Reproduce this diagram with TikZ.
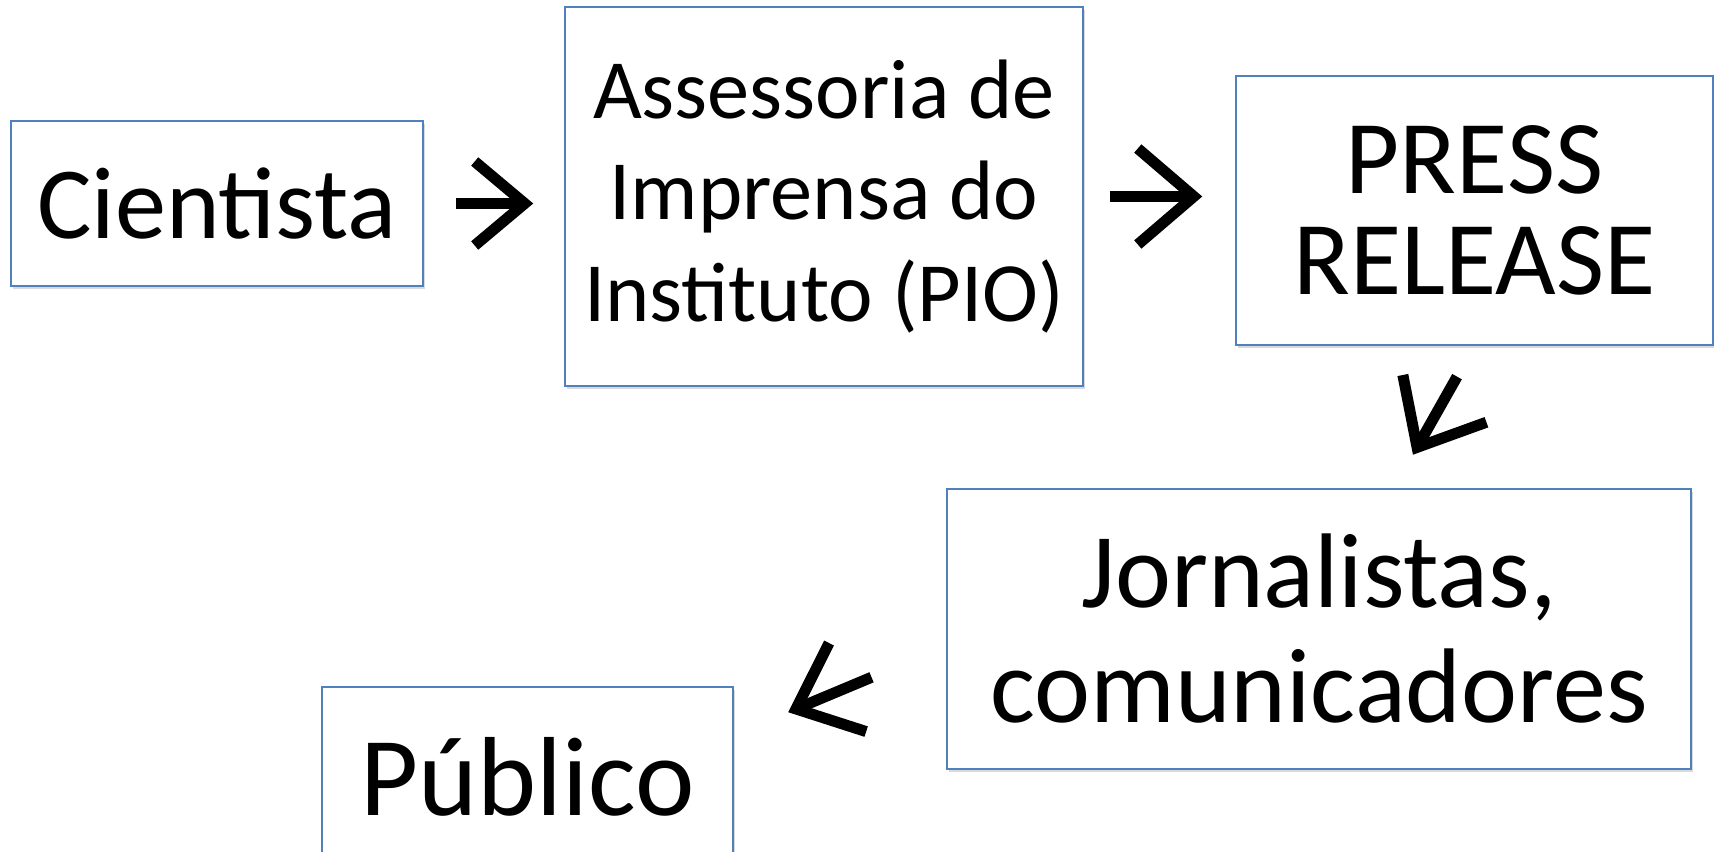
\documentclass[tikz,border=0pt]{standalone}
\usepackage{fontspec}
\setmainfont{Carlito}
\usetikzlibrary{arrows.meta,shadows}
\definecolor{boxblue}{RGB}{79,129,189}
\tikzset{
caixa/.style={draw=boxblue, line width=0.015cm, fill=white, align=center, inner sep=0pt,
 drop shadow={shadow xshift=0.02cm, shadow yshift=-0.03cm, opacity=0.15, fill=black}},
seta/.style={line width=0.11cm, -{Straight Barb[length=0.56cm, width=0.96cm]}}
}
\begin{document}
\begin{tikzpicture}
\useasboundingbox (0,0) rectangle (17.14,-8.52);
\clip (0,0) rectangle (17.14,-8.52);
\node[caixa, minimum width=4.12cm, minimum height=1.65cm, font=\fontsize{29.1pt}{34pt}\selectfont]
 (cient) at (2.17,-2.035) {Cientista};
\node[caixa, minimum width=5.18cm, minimum height=3.79cm, font=\fontsize{24pt}{28.9pt}\selectfont]
 (pio) at (8.24,-1.965) {Assessoria de\\Imprensa do\\Instituto (PIO)};
\node[caixa, minimum width=4.77cm, minimum height=2.69cm, font=\fontsize{29.8pt}{28.7pt}\selectfont]
 (press) at (14.745,-2.105) {PRESS\\RELEASE};
\node[caixa, minimum width=7.44cm, minimum height=2.80cm, font=\fontsize{30.2pt}{32.7pt}\selectfont]
 (jorn) at (13.19,-6.29) {Jornalistas,\\comunicadores};
\node[caixa, minimum width=4.11cm, minimum height=1.80cm, font=\fontsize{32pt}{38pt}\selectfont]
 (pub) at (5.275,-7.77) {Público};
\draw[seta, -{Straight Barb[length=0.5cm, width=0.84cm]}, shorten <=0.32cm, shorten >=0.31cm]
 (cient.east) -- (cient.east -| pio.west);
\draw[seta, shorten <=0.26cm, shorten >=0.33cm] (pio.east) -- (pio.east -| press.west);
\draw[seta, shorten <=0.355cm, shorten >=0.385cm] (press.south) -- ([xshift=0.75cm]jorn.north);
\draw[seta, shorten <=0.81cm, shorten >=0.59cm] ([yshift=-0.17cm]jorn.west) -- ([yshift=0.42cm]pub.east);
\end{tikzpicture}
\end{document}
